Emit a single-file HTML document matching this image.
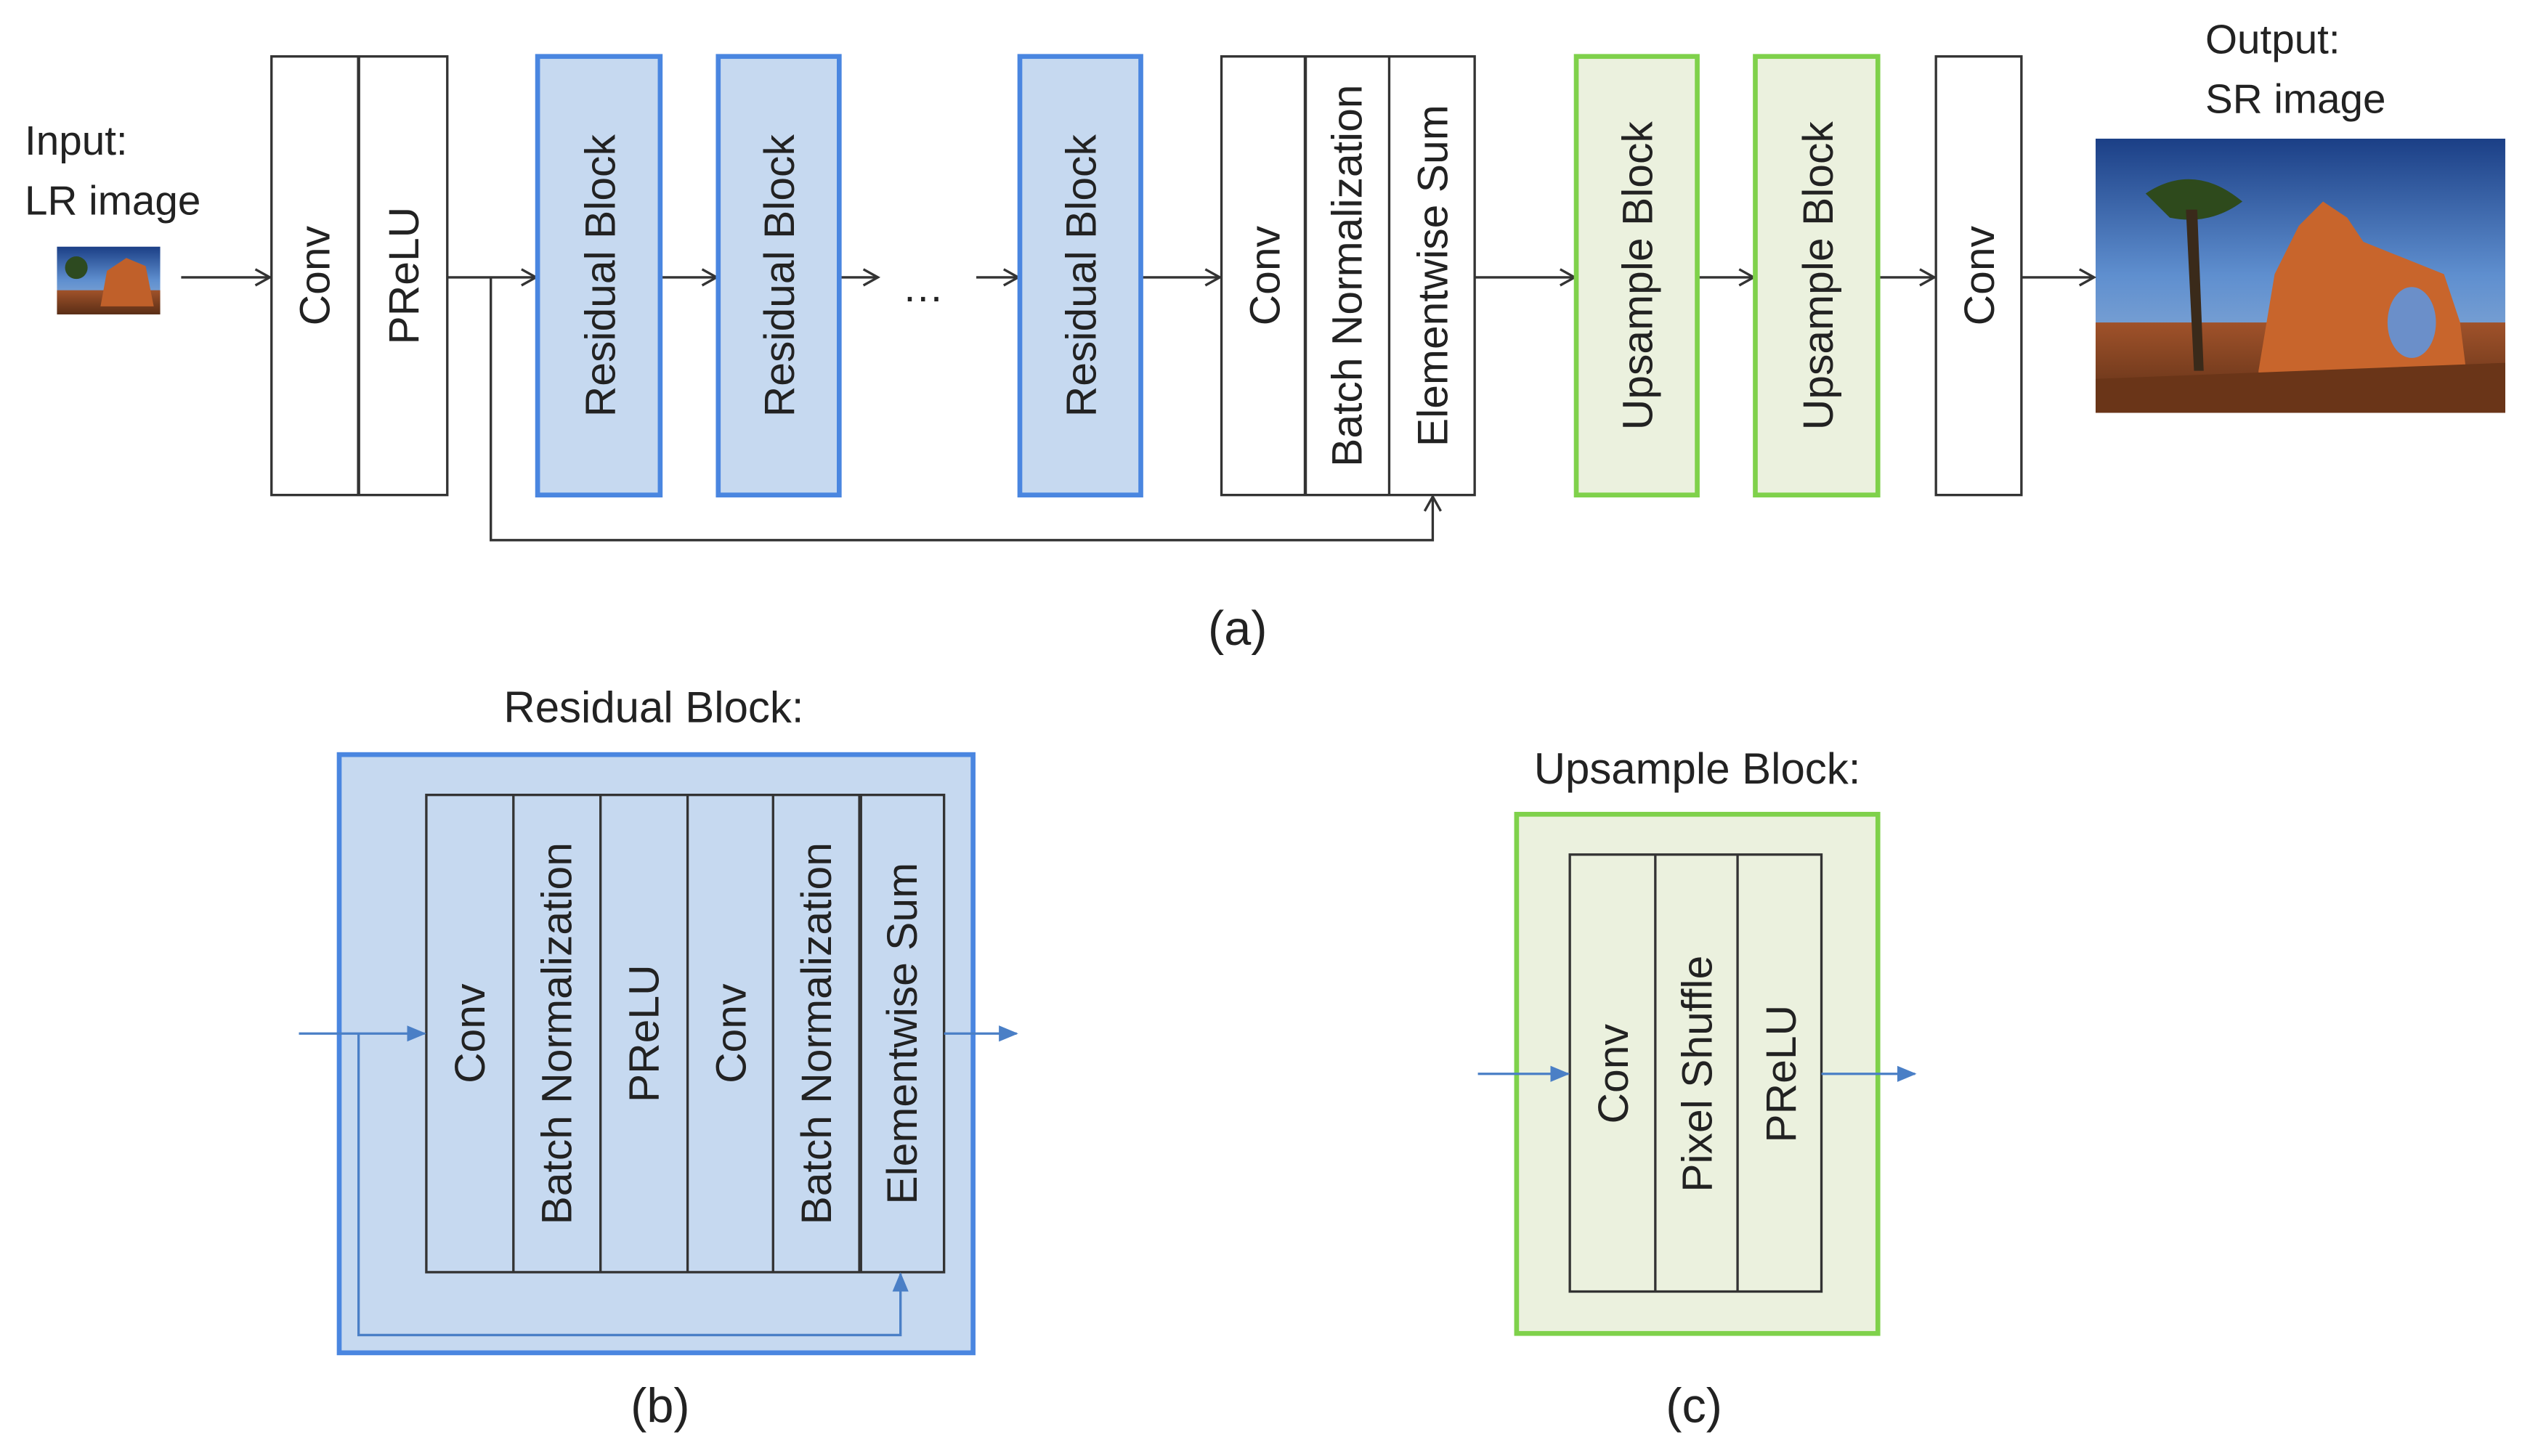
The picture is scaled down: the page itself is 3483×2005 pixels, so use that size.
<!DOCTYPE html>
<html><head><meta charset="utf-8"><style>
html,body{margin:0;padding:0;background:#fff;}
svg{display:block;}
text{font-family:"Liberation Sans",sans-serif;fill:#222;}
</style></head><body>
<svg width="3483" height="2005" viewBox="0 0 1568 903" xmlns="http://www.w3.org/2000/svg">
<defs>
<marker id="a" markerWidth="12" markerHeight="12" refX="10" refY="6" orient="auto" markerUnits="userSpaceOnUse">
<path d="M1,1 L10,6 L1,11" fill="none" stroke="#333" stroke-width="1.5"/></marker>
<marker id="b" markerWidth="12" markerHeight="12" refX="11" refY="6" orient="auto" markerUnits="userSpaceOnUse">
<path d="M0,1 L12,6 L0,11 z" fill="#4a7fc6"/></marker>
<linearGradient id="sky" x1="0" y1="0" x2="0" y2="1"><stop offset="0" stop-color="#1b3f86"/><stop offset="0.5" stop-color="#5f8fcf"/><stop offset="1" stop-color="#9cb8d8"/></linearGradient>
<linearGradient id="gr" x1="0" y1="0" x2="0" y2="1"><stop offset="0" stop-color="#a0522a"/><stop offset="1" stop-color="#5a2e16"/></linearGradient>
</defs>
<g font-size="25.5">
<text x="15" y="96">Input:</text>
<text x="15" y="133">LR image</text>
<text x="1367" y="33">Output:</text>
<text x="1367" y="70">SR image</text>
</g>
<rect x="35" y="153" width="64" height="42" fill="url(#sky)"/>
<rect x="35" y="180" width="64" height="15" fill="url(#gr)"/>
<path d="M62,190 L66,168 L78,160 L90,165 L95,190 Z" fill="#c0602a"/>
<circle cx="47" cy="166" r="7" fill="#2d4a20"/>
<rect x="1299" y="86" width="254" height="170" fill="url(#sky)"/>
<rect x="1299" y="200" width="254" height="56" fill="url(#gr)"/>
<path d="M1400,230 L1410,170 L1425,140 L1440,125 L1455,135 L1465,150 L1490,160 L1515,170 L1525,200 L1530,240 L1400,240 Z" fill="#c8652c"/>
<ellipse cx="1495" cy="200" rx="15" ry="22" fill="#6b8fc9"/>
<path d="M1330,120 Q1360,100 1390,125 Q1370,140 1345,135 Z" fill="#2e4a1c"/>
<path d="M1355,130 L1360,230 L1366,230 L1362,130 Z" fill="#3a2a1a"/>
<path d="M1299,235 L1553,225 L1553,256 L1299,256 Z" fill="#6a3518"/>
<g fill="none" stroke="#333" stroke-width="1.5">
<line x1="112" y1="172" x2="167" y2="172" marker-end="url(#a)"/>
<line x1="277" y1="172" x2="332" y2="172" marker-end="url(#a)"/>
<line x1="409" y1="172" x2="444" y2="172" marker-end="url(#a)"/>
<line x1="520" y1="172" x2="544" y2="172" marker-end="url(#a)"/>
<line x1="605" y1="172" x2="631" y2="172" marker-end="url(#a)"/>
<line x1="707" y1="172" x2="756" y2="172" marker-end="url(#a)"/>
<line x1="914" y1="172" x2="976" y2="172" marker-end="url(#a)"/>
<line x1="1052" y1="172" x2="1087" y2="172" marker-end="url(#a)"/>
<line x1="1164" y1="172" x2="1199" y2="172" marker-end="url(#a)"/>
<line x1="1253" y1="172" x2="1298" y2="172" marker-end="url(#a)"/>
<polyline points="304,172 304,335 888,335 888,308" marker-end="url(#a)"/>
</g>
<text x="572" y="187" font-size="26" text-anchor="middle">…</text>
<g stroke="#333" stroke-width="1.5" fill="#fff">
<rect x="168" y="35" width="109" height="272"/><line x1="222" y1="35" x2="222" y2="307" stroke-width="2"/>
<rect x="757" y="35" width="157" height="272"/><line x1="809" y1="35" x2="809" y2="307" stroke-width="2"/><line x1="861" y1="35" x2="861" y2="307"/>
<rect x="1200" y="35" width="53" height="272"/>
</g>
<g fill="#c6d9f0" stroke="#4a86e0" stroke-width="3">
<rect x="333" y="35" width="76" height="272"/>
<rect x="445" y="35" width="75" height="272"/>
<rect x="632" y="35" width="75" height="272"/>
</g>
<g fill="#ebf1de" stroke="#7fd14b" stroke-width="3">
<rect x="977" y="35" width="75" height="272"/>
<rect x="1088" y="35" width="76" height="272"/>
</g>
<g font-size="26.5" text-anchor="middle">
<text transform="translate(204,171) rotate(-90)">Conv</text>
<text transform="translate(259,171) rotate(-90)">PReLU</text>
<text transform="translate(381,171) rotate(-90)">Residual Block</text>
<text transform="translate(492,171) rotate(-90)">Residual Block</text>
<text transform="translate(679,171) rotate(-90)">Residual Block</text>
<text transform="translate(793,171) rotate(-90)">Conv</text>
<text transform="translate(844,171) rotate(-90)">Batch Normalization</text>
<text transform="translate(897,171) rotate(-90)">Elementwise Sum</text>
<text transform="translate(1024,171) rotate(-90)">Upsample Block</text>
<text transform="translate(1136,171) rotate(-90)">Upsample Block</text>
<text transform="translate(1236,171) rotate(-90)">Conv</text>
</g>
<g font-size="27" text-anchor="middle">
<text x="767" y="400" font-size="30">(a)</text>
<text x="405" y="448">Residual Block:</text>
<text x="1052" y="486">Upsample Block:</text>
<text x="409" y="882" font-size="30">(b)</text>
<text x="1050" y="882" font-size="30">(c)</text>
</g>
<rect x="210" y="468" width="393" height="371" fill="#c6d9f0" stroke="#4a86e0" stroke-width="3"/>
<g stroke="#333" stroke-width="1.5" fill="#c6d9f0">
<rect x="264" y="493" width="321" height="296"/>
<line x1="318" y1="493" x2="318" y2="789"/><line x1="372" y1="493" x2="372" y2="789"/>
<line x1="426" y1="493" x2="426" y2="789"/><line x1="479" y1="493" x2="479" y2="789"/>
<line x1="533" y1="493" x2="533" y2="789" stroke-width="2.5"/>
</g>
<rect x="940" y="505" width="224" height="322" fill="#ebf1de" stroke="#7fd14b" stroke-width="3"/>
<g stroke="#333" stroke-width="1.5" fill="#ebf1de">
<rect x="973" y="530" width="156" height="271"/>
<line x1="1026" y1="530" x2="1026" y2="801"/><line x1="1077" y1="530" x2="1077" y2="801"/>
</g>
<g fill="none" stroke="#4a7fc6" stroke-width="1.5">
<line x1="185" y1="641" x2="263" y2="641" marker-end="url(#b)"/>
<polyline points="222,641 222,828 558,828 558,790" marker-end="url(#b)"/>
<line x1="585" y1="641" x2="630" y2="641" marker-end="url(#b)"/>
<line x1="916" y1="666" x2="972" y2="666" marker-end="url(#b)"/>
<line x1="1129" y1="666" x2="1187" y2="666" marker-end="url(#b)"/>
</g>
<g font-size="26.5" text-anchor="middle">
<text transform="translate(300,641) rotate(-90)">Conv</text>
<text transform="translate(354,641) rotate(-90)">Batch Normalization</text>
<text transform="translate(408,641) rotate(-90)">PReLU</text>
<text transform="translate(462,641) rotate(-90)">Conv</text>
<text transform="translate(515,641) rotate(-90)">Batch Normalization</text>
<text transform="translate(568,641) rotate(-90)">Elementwise Sum</text>
<text transform="translate(1009,666) rotate(-90)">Conv</text>
<text transform="translate(1061,666) rotate(-90)">Pixel Shuffle</text>
<text transform="translate(1113,666) rotate(-90)">PReLU</text>
</g>
</svg>
</body></html>
